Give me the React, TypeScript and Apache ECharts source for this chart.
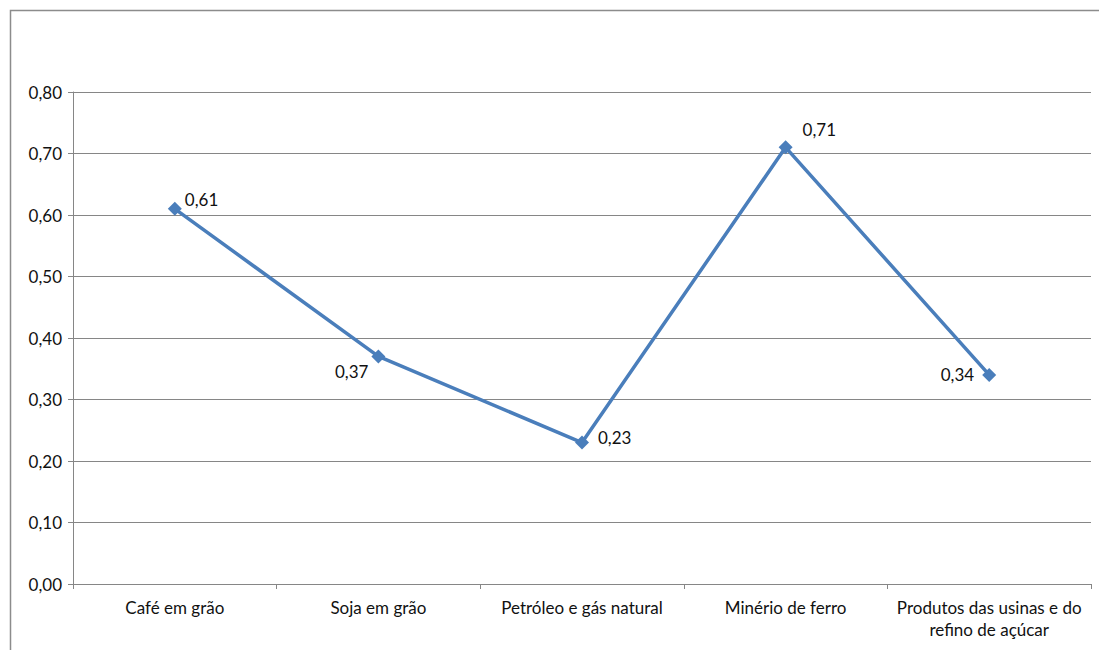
import React, { useEffect, useRef } from "react";
import * as echarts from "echarts";

const categories = [
  "Café em grão",
  "Soja em grão",
  "Petróleo e gás natural",
  "Minério de ferro",
  "Produtos das usinas e do\nrefino de açúcar",
];
const values = [0.61, 0.37, 0.23, 0.71, 0.34];
const labelPlacement: { position: string; offset: number[] }[] = [
  { position: "right", offset: [-2, -9] },
  { position: "left", offset: [2, 15] },
  { position: "right", offset: [4, -5] },
  { position: "right", offset: [5, -18] },
  { position: "left", offset: [-3, 0] },
];

const fmt = (v: number) => v.toFixed(2).replace(".", ",");
const FONT = "Lato, 'Open Sans', sans-serif";

export default function App() {
  const ref = useRef<HTMLDivElement>(null);
  useEffect(() => {
    if (!ref.current) return;
    const chart = echarts.init(ref.current, null, { renderer: "svg" });
    chart.setOption({
      animation: false,
      backgroundColor: "#ffffff",
      textStyle: { fontFamily: FONT },
      graphic: [
        {
          type: "rect",
          shape: { x: 10.5, y: 10.5, width: 1120, height: 680 },
          style: { fill: "none", stroke: "#8c8c8c", lineWidth: 1.5 },
          silent: true,
        },
      ],
      grid: { left: 73, right: 8, top: 92, bottom: 66, containLabel: false },
      xAxis: {
        type: "category",
        data: categories,
        boundaryGap: true,
        axisLine: { lineStyle: { color: "#868686", width: 1 } },
        axisTick: { show: true, length: 5, alignWithLabel: false, lineStyle: { color: "#868686" } },
        axisLabel: {
          color: "#111111",
          fontSize: 17,
          fontFamily: FONT,
          margin: 12,
          lineHeight: 22,
          interval: 0,
        },
        splitLine: { show: false },
      },
      yAxis: {
        type: "value",
        min: 0,
        max: 0.8,
        interval: 0.1,
        axisLine: { show: true, lineStyle: { color: "#868686", width: 1 } },
        axisTick: { show: true, length: 5, lineStyle: { color: "#868686" } },
        axisLabel: {
          color: "#111111",
          fontSize: 17,
          fontFamily: FONT,
          margin: 11,
          formatter: (v: number) => fmt(v),
        },
        splitLine: { show: true, lineStyle: { color: "#868686", width: 1 } },
      },
      series: [
        {
          type: "line",
          data: values.map((v, i) => ({
            value: v,
            label: {
              show: true,
              position: labelPlacement[i].position,
              offset: labelPlacement[i].offset,
            },
          })),
          symbol: "diamond",
          symbolSize: 14,
          itemStyle: { color: "#4a7ebb" },
          lineStyle: { color: "#4a7ebb", width: 3.5 },
          label: {
            show: true,
            color: "#111111",
            fontSize: 17,
            fontFamily: FONT,
            formatter: (p: any) => fmt(p.value),
          },
        },
      ],
    });
    return () => chart.dispose();
  }, []);
  return (
    <div
      ref={ref}
      style={{ position: "fixed", left: 0, top: 0, width: 1099, height: 650 }}
    />
  );
}
